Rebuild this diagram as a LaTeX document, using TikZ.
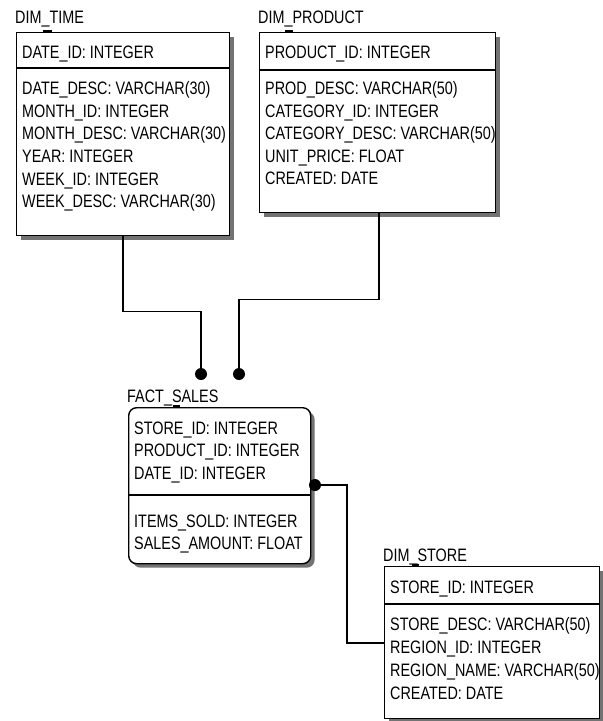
\documentclass[tikz,border=0pt]{standalone}
\usepackage{fontspec}
\setmainfont{Liberation Sans}[FakeStretch=0.8]
\usetikzlibrary{shadows,calc}
\begin{document}
\begin{tikzpicture}[x=1pt,y=-1pt,
  every node/.style={font=\fontsize{18}{22}\selectfont, inner sep=0pt},
  tbl/.style={draw, line width=1.4pt, fill=white, anchor=north west,
    drop shadow={shadow xshift=4pt, shadow yshift=-4pt, fill=black!55, opacity=1}},
  row/.style={anchor=base west},
  sepline/.style={line width=1.4pt},
  tickmark/.style={line width=3pt},
  conn/.style={line width=1.4pt},
  dot/.style={circle, fill=black, minimum size=12pt}]
\useasboundingbox[fill=white] (0,0) rectangle (603,721);

% DIM_TIME
\node[row] (timelbl) at (15,23) {DIM\_TIME};
\node[tbl, minimum width=213pt, minimum height=203pt] (time) at (16,32) {};
\draw[sepline] ([yshift=-36pt]time.north west) -- ([yshift=-36pt]time.north east);
\draw[tickmark] ([shift={(27pt,1pt)}]time.north west) -- ++(9,0);
\node[row] (t1) at (22,58.5) {DATE\_ID: INTEGER};
\node[row] (t2) at (22,94.5) {DATE\_DESC: VARCHAR(30)};
\node[row] (t3) at (22,117) {MONTH\_ID: INTEGER};
\node[row] (t4) at (22,139.5) {MONTH\_DESC: VARCHAR(30)};
\node[row] (t5) at (22,162) {YEAR: INTEGER};
\node[row] (t6) at (22,185) {WEEK\_ID: INTEGER};
\node[row] (t7) at (22,207.5) {WEEK\_DESC: VARCHAR(30)};

% DIM_PRODUCT
\node[row] (prodlbl) at (258,23) {DIM\_PRODUCT};
\node[tbl, minimum width=236pt, minimum height=180pt] (prod) at (259,32) {};
\draw[sepline] ([yshift=-38pt]prod.north west) -- ([yshift=-38pt]prod.north east);
\draw[tickmark] ([shift={(26pt,1pt)}]prod.north west) -- ++(8,0);
\node[row] (p1) at (265,58.5) {PRODUCT\_ID: INTEGER};
\node[row] (p2) at (265,94.5) {PROD\_DESC: VARCHAR(50)};
\node[row] (p3) at (265,117) {CATEGORY\_ID: INTEGER};
\node[row] (p4) at (265,139.5) {CATEGORY\_DESC: VARCHAR(50)};
\node[row] (p5) at (265,162) {UNIT\_PRICE: FLOAT};
\node[row] (p6) at (265,184.5) {CREATED: DATE};

% FACT_SALES
\node[row] (factlbl) at (127,402) {FACT\_SALES};
\node[tbl, rounded corners=8pt, minimum width=182pt, minimum height=156pt] (fact) at (128,407) {};
\draw[sepline] ([yshift=-88pt]fact.north west) -- ([yshift=-88pt]fact.north east);
\draw[tickmark] ([shift={(45pt,1pt)}]fact.north west) -- ++(7,0);
\node[row] (f1) at (134,434) {STORE\_ID: INTEGER};
\node[row] (f2) at (134,456.5) {PRODUCT\_ID: INTEGER};
\node[row] (f3) at (134,479) {DATE\_ID: INTEGER};
\node[row] (f4) at (134,527) {ITEMS\_SOLD: INTEGER};
\node[row] (f5) at (134,549.5) {SALES\_AMOUNT: FLOAT};

% DIM_STORE
\node[row] (storelbl) at (383,561) {DIM\_STORE};
\node[tbl, minimum width=215pt, minimum height=152pt] (store) at (384,566) {};
\draw[sepline] ([yshift=-38pt]store.north west) -- ([yshift=-38pt]store.north east);
\draw[tickmark] ([shift={(28pt,1pt)}]store.north west) -- ++(7,0);
\node[row] (s1) at (390,593) {STORE\_ID: INTEGER};
\node[row] (s2) at (390,630.5) {STORE\_DESC: VARCHAR(50)};
\node[row] (s3) at (390,653) {REGION\_ID: INTEGER};
\node[row] (s4) at (390,676) {REGION\_NAME: VARCHAR(50)};
\node[row] (s5) at (390,699) {CREATED: DATE};

% relationship ends
\node[dot] (dotT) at (201,374) {};
\node[dot] (dotP) at (239,374) {};
\node[dot] (dotS) at (315,485) {};

% connectors
\draw[conn] ([xshift=107pt]time.south west) -- ++(0,75) -| (dotT.center);
\draw[conn] ([xshift=120pt]prod.south west) -- ++(0,86) -| (dotP.center);
\draw[conn] (dotS.center) -- ++(32,0) |- ([yshift=-77pt]store.north west);
\end{tikzpicture}
\end{document}
